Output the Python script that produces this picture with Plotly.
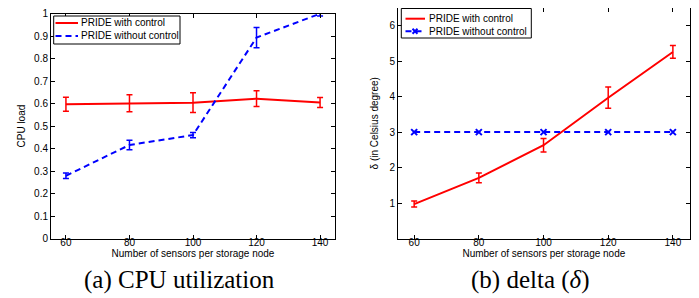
import plotly.graph_objects as go

x_vals = [60, 80, 100, 120, 140]

cpu_with = [0.597, 0.602, 0.604, 0.622, 0.605]
cpu_with_err = [0.031, 0.038, 0.044, 0.035, 0.022]
cpu_without = [0.279, 0.416, 0.460, 0.894, 1.0]
cpu_without_err = [0.012, 0.021, 0.012, 0.045, 0.01]

delta_with = [0.97, 1.71, 2.63, 3.97, 5.26]
delta_with_err = [0.085, 0.14, 0.19, 0.30, 0.18]
delta_without = [3.0, 3.0, 3.0, 3.0, 3.0]

cpu_ticks = [0, 0.1, 0.2, 0.3, 0.4, 0.5, 0.6, 0.7, 0.8, 0.9, 1]
cpu_ticktext = ["0", "0.1", "0.2", "0.3", "0.4", "0.5", "0.6", "0.7", "0.8", "0.9", "1"]
delta_ticks = [1, 2, 3, 4, 5, 6]

series_names = ["PRIDE with control", "PRIDE without control"]

RED = "#ff0000"
BLUE = "#0000ff"
SANS = "Liberation Sans, Arial, sans-serif"
SERIF = "Liberation Serif, Times New Roman, serif"
W, H = 699, 298
DASH = "6px,4px"


def px(xp):
    return xp / W


def py(yp):
    return (H - yp) / H


fig = go.Figure()

fig.add_trace(go.Scatter(
    x=x_vals, y=cpu_with, mode="lines", name=series_names[0],
    line=dict(color=RED, width=2),
    error_y=dict(type="data", array=cpu_with_err, color=RED, thickness=1.5, width=3),
    xaxis="x", yaxis="y"))
fig.add_trace(go.Scatter(
    x=x_vals, y=cpu_without, mode="lines", name=series_names[1],
    line=dict(color=BLUE, width=2, dash=DASH),
    error_y=dict(type="data", array=cpu_without_err, color=BLUE, thickness=1.5, width=3),
    xaxis="x", yaxis="y"))

fig.add_trace(go.Scatter(
    x=x_vals, y=delta_with, mode="lines", name=series_names[0],
    line=dict(color=RED, width=2),
    error_y=dict(type="data", array=delta_with_err, color=RED, thickness=1.5, width=3),
    xaxis="x2", yaxis="y2"))
fig.add_trace(go.Scatter(
    x=x_vals, y=delta_without, mode="lines+markers", name=series_names[1],
    line=dict(color=BLUE, width=2, dash=DASH),
    marker=dict(symbol="x-thin", size=6, color=BLUE, line=dict(color=BLUE, width=2)),
    xaxis="x2", yaxis="y2"))

axis_common = dict(showline=True, linecolor="black", linewidth=1, mirror="ticks",
                   ticks="inside", ticklen=4, tickcolor="black", showgrid=False,
                   zeroline=False, automargin=False,
                   tickfont=dict(family=SANS, size=10, color="black"))
title_font = dict(family=SANS, size=10, color="black")

shapes = []
annotations = []


def add_legend(x0, x1, y0, y1, line_x0, line_x1, text_x, rows, marker_x=None):
    shapes.append(dict(type="rect", xref="paper", yref="paper",
                       x0=px(x0), x1=px(x1), y0=py(y1), y1=py(y0),
                       fillcolor="white", line=dict(color="black", width=1), layer="above"))
    for (yy, color, dash, name, mark) in rows:
        shapes.append(dict(type="line", xref="paper", yref="paper",
                           x0=px(line_x0), x1=px(line_x1), y0=py(yy), y1=py(yy),
                           line=dict(color=color, width=2, dash=dash), layer="above"))
        if mark and marker_x is not None:
            s = 2.5
            for dx0, dy0, dx1, dy1 in [(-s, -s, s, s), (-s, s, s, -s)]:
                shapes.append(dict(type="line", xref="paper", yref="paper",
                                   x0=px(marker_x + dx0), x1=px(marker_x + dx1),
                                   y0=py(yy + dy0), y1=py(yy + dy1),
                                   line=dict(color=color, width=2), layer="above"))
        annotations.append(dict(text=name, x=px(text_x), y=py(yy), xref="paper", yref="paper",
                                xanchor="left", yanchor="middle", showarrow=False,
                                font=dict(family=SANS, size=10, color="black")))


add_legend(45.7, 172, 8, 36, 47.5, 70, 71, [
    (15, RED, "solid", series_names[0], False),
    (28, BLUE, DASH, series_names[1], False),
])
add_legend(393.3, 523.3, 0.5, 30, 397.5, 417, 419, [
    (10.7, RED, "solid", series_names[0], False),
    (23.3, BLUE, DASH, series_names[1], True),
], marker_x=407)

annotations += [
    dict(text="(a) CPU utilization", x=px(171), y=py(272), xref="paper", yref="paper",
         xanchor="center", yanchor="middle", showarrow=False,
         font=dict(family=SERIF, size=25, color="black")),
    dict(text="(b) delta (<i>δ</i>)", x=px(522), y=py(272), xref="paper", yref="paper",
         xanchor="center", yanchor="middle", showarrow=False,
         font=dict(family=SERIF, size=25, color="black")),
]

fig.update_layout(
    width=W, height=H,
    margin=dict(l=0, r=0, t=0, b=0, autoexpand=False),
    paper_bgcolor="white", plot_bgcolor="white",
    showlegend=False,
    xaxis=dict(domain=[px(43), px(327)], range=[55.3, 144.7], tickvals=x_vals, anchor="y",
               ticklabelstandoff=-6,
               title=dict(text="Number of sensors per storage node", standoff=0, font=title_font),
               **axis_common),
    yaxis=dict(domain=[py(230.5), py(5.7)], range=[0, 1], tickvals=cpu_ticks, ticktext=cpu_ticktext,
               anchor="x",
               title=dict(text="CPU load", standoff=6, font=title_font),
               **axis_common),
    xaxis2=dict(domain=[px(390), px(681.7)], range=[55, 145.2], tickvals=x_vals, anchor="y2",
                ticklabelstandoff=-6,
                title=dict(text="Number of sensors per storage node", standoff=0, font=title_font),
                **axis_common),
    yaxis2=dict(domain=[py(230.5), py(0)], range=[0, 6.5], tickvals=delta_ticks, anchor="x2",
                title=dict(text="δ (in Celsius degree)", standoff=8, font=title_font),
                **axis_common),
    shapes=shapes,
    annotations=annotations,
)

fig.write_html("out.html")
